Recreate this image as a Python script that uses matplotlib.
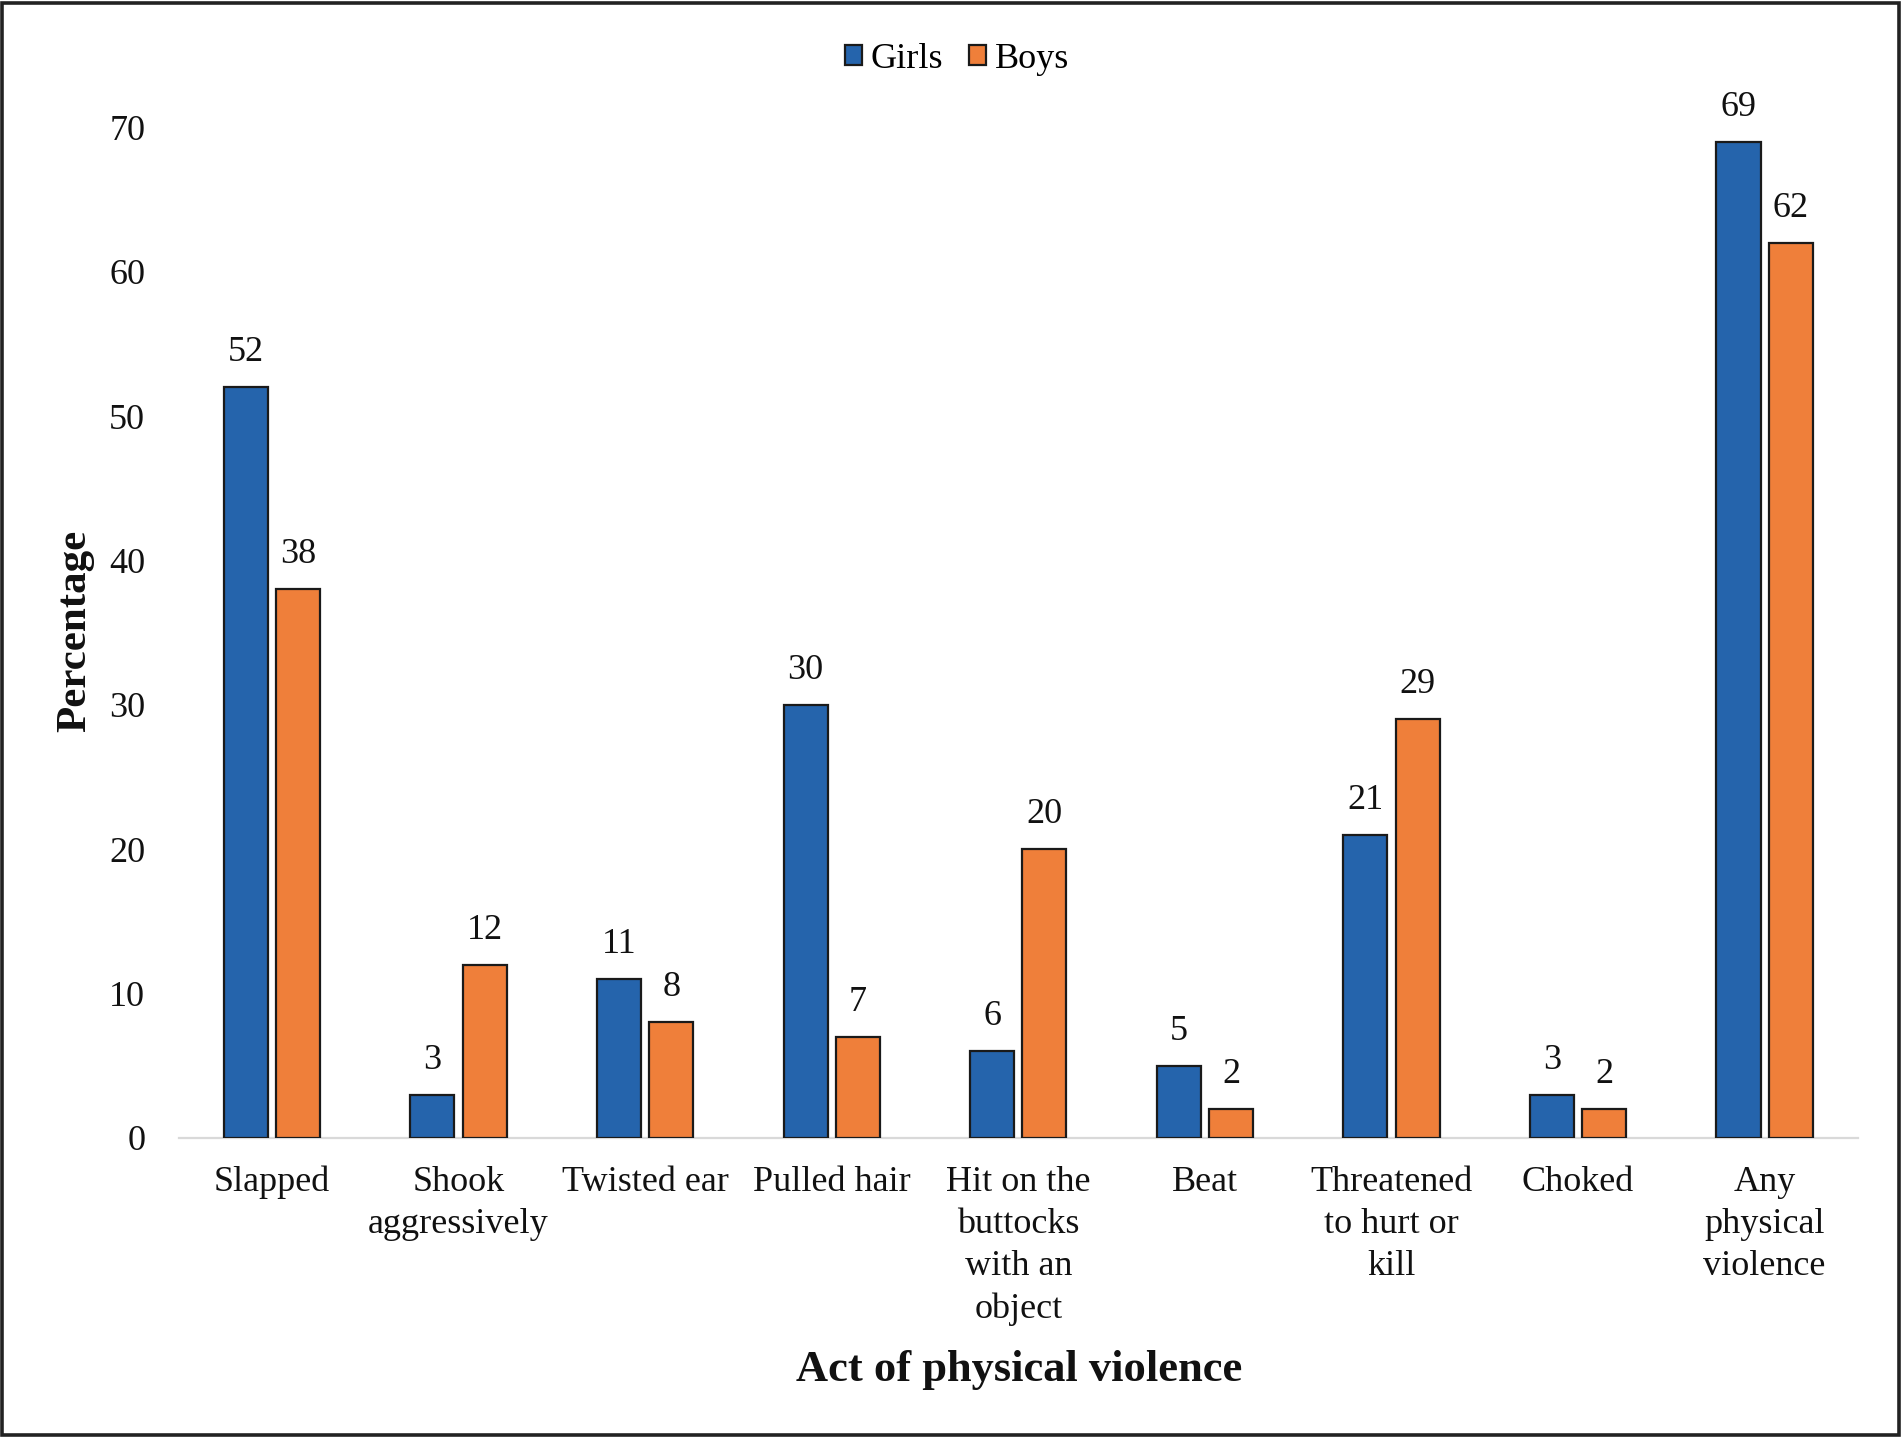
import numpy as np
import matplotlib
matplotlib.use("Agg")
import matplotlib.pyplot as plt
from matplotlib.patches import Rectangle

plt.rcParams['font.family'] = ['Liberation Serif', 'DejaVu Serif']

categories = ["Slapped", "Shook\naggressively", "Twisted ear", "Pulled hair",
              "Hit on the\nbuttocks\nwith an\nobject", "Beat",
              "Threatened\nto hurt or\nkill", "Choked", "Any\nphysical\nviolence"]
girls = [52, 3, 11, 30, 6, 5, 21, 3, 69]
boys = [38, 12, 8, 7, 20, 2, 29, 2, 62]
yticks = [0, 10, 20, 30, 40, 50, 60, 70]

blue = '#2564AC'
orange = '#EF7F3A'
edge = '#1a1a1a'

fig = plt.figure(figsize=(19.04, 14.37), dpi=100)
ax = fig.add_axes([0.0938, 0.2081, 0.882, 0.7032])

x = np.arange(len(categories))
w = 0.236
off = 0.14
b1 = ax.bar(x - off, girls, w, color=blue, edgecolor=edge, lw=1.6, label='Girls', zorder=3)
b2 = ax.bar(x + off, boys, w, color=orange, edgecolor=edge, lw=1.6, label='Boys', zorder=3)

for bars, vals in ((b1, girls), (b2, boys)):
    for r, v in zip(bars, vals):
        ax.annotate(str(v), (r.get_x() + r.get_width() / 2, v), xytext=(0, 13),
                    textcoords='offset points', ha='center', va='bottom',
                    fontsize=26, color='#111111', annotation_clip=False)

ax.set_xlim(-0.5, len(categories) - 0.5)
ax.set_ylim(0, 70)
ax.set_yticks(yticks)
ax.set_xticks(x)
ax.set_xticklabels(categories, fontsize=26, linespacing=1.37)
ax.tick_params(axis='x', length=0, pad=20, colors='#111111')
ax.tick_params(axis='y', length=0, pad=24, labelsize=26, colors='#111111')
for s in ['top', 'right', 'left']:
    ax.spines[s].set_visible(False)
ax.spines['bottom'].set_color('#D9D9D9')
ax.spines['bottom'].set_linewidth(1.6)
ax.spines['bottom'].set_zorder(2)

fig.text(75 / 1904, 1 - 631 / 1437, 'Percentage', rotation=90, ha='center', va='center',
         fontsize=31, fontweight='bold', color='#111111')
fig.text(0.535, 1 - 1370 / 1437, 'Act of physical violence', ha='center', va='center',
         fontsize=32, fontweight='bold', color='#111111')

leg = fig.legend(loc='center', bbox_to_anchor=(0.5026, 0.9585), ncol=2, frameon=False,
                 fontsize=26, handlelength=0.47, handleheight=0.47, handletextpad=0.25,
                 columnspacing=0.7)

fig.patches.append(Rectangle((0.001, 0.0012), 0.9965, 0.9965, transform=fig.transFigure,
                             fill=False, edgecolor='#222222', lw=2.6))

fig.savefig('out.png', dpi=100)
